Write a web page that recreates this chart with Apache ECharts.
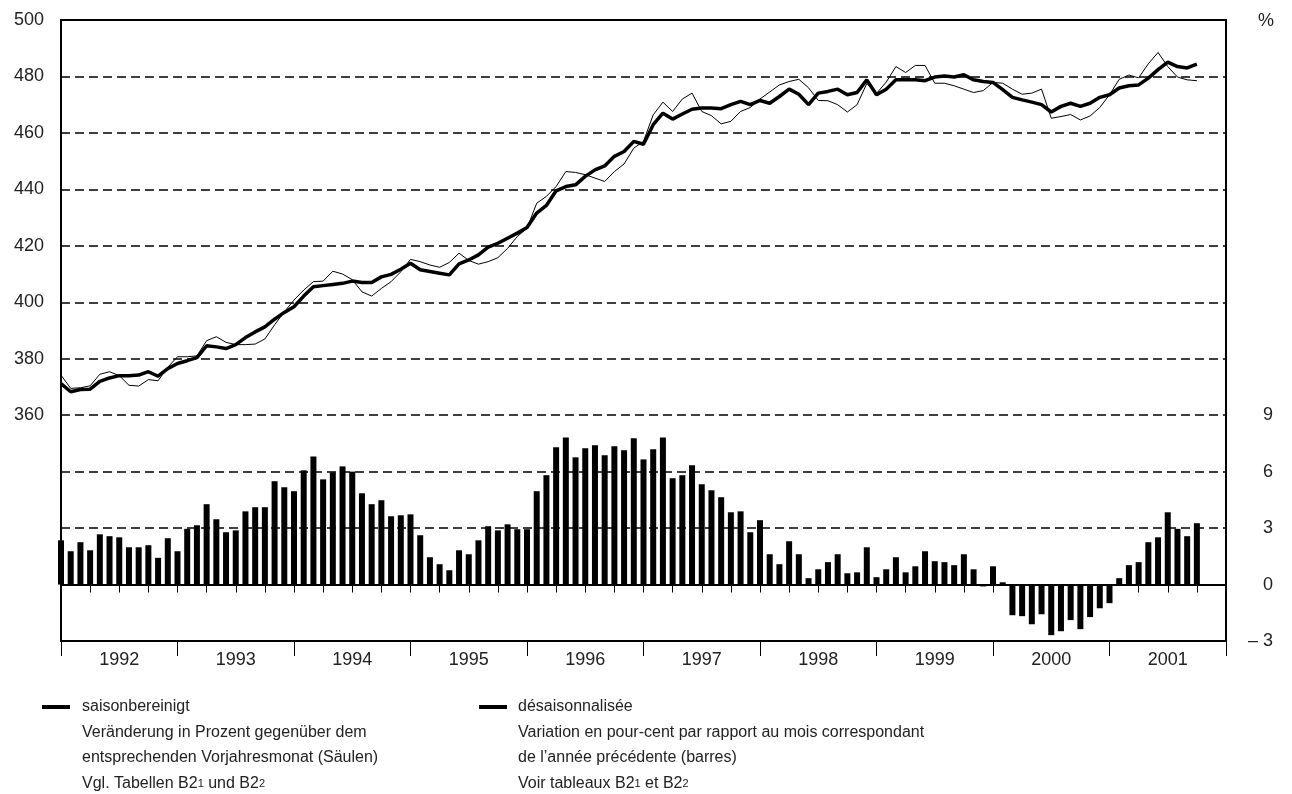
<!DOCTYPE html>
<html>
<head>
<meta charset="utf-8">
<script src="https://cdn.jsdelivr.net/npm/echarts@6/dist/echarts.min.js"></script>
<style>
html,body{margin:0;padding:0;background:#fff;}
#chart{width:1292px;height:794px;}
</style>
</head>
<body>
<div id="chart"></div>
<script>
// Months: Dec 1991 ... Dec 2001 (index 0 = Dec 1991)
const startYear = 1991, startMonth = 12, monthCount = 121;
const months = [];
for (let i = 0; i < monthCount; i++) {
  const t = startMonth - 1 + i;
  const y = startYear + Math.floor(t / 12);
  const m = (t % 12) + 1;
  months.push(y + '-' + (m < 10 ? '0' + m : m));
}
const yearLabels = ['1992','1993','1994','1995','1996','1997','1998','1999','2000','2001'];

// saisonbereinigt / désaisonnalisée (thick line)
const seasonallyAdjusted = [
  371.2,368.3,369.1,369.2,372.0,373.2,374.0,374.0,374.2,375.4,373.8,376.5,
  378.3,379.3,380.4,384.6,384.2,383.6,385.0,387.5,389.5,391.3,394.0,396.4,
  398.4,402.2,405.5,405.9,406.3,406.7,407.5,407.0,407.0,409.0,409.9,411.7,
  413.8,411.5,410.9,410.3,409.7,413.6,415.0,416.8,419.5,420.9,422.7,424.5,
  426.5,431.6,434.3,439.5,441.0,441.6,444.6,446.9,448.3,451.7,453.4,457.0,
  456.0,462.9,467.0,464.9,466.7,468.4,468.8,468.8,468.6,470.0,471.2,470.0,
  471.5,470.5,472.9,475.5,473.7,470.0,474.1,474.7,475.5,473.5,474.3,478.8,
  473.5,475.5,478.8,478.8,478.8,478.5,479.8,480.2,479.8,480.6,478.8,478.2,
  477.9,475.3,472.6,471.7,470.9,470.0,467.4,469.4,470.5,469.4,470.5,472.6,
  473.5,475.9,476.7,477.0,479.4,482.4,485.1,483.5,483.0,484.4
];
// unadjusted index (thin line)
const unadjusted = [
  374.2,369.5,369.7,370.4,374.5,375.4,374.0,370.6,370.3,372.6,372.2,377.0,
  380.7,380.7,381.0,386.4,387.8,385.8,385.0,385.0,385.2,387.0,392.0,396.6,
  400.8,404.3,407.3,407.5,411.0,410.0,408.0,403.7,402.2,404.9,407.3,410.8,
  415.2,414.4,413.2,412.4,414.1,417.4,414.8,413.5,414.4,415.8,419.1,423.3,
  426.2,435.1,437.5,441.0,446.3,446.0,445.2,444.0,442.8,446.3,449.0,454.6,
  457.0,466.4,470.9,467.6,472.0,474.1,467.6,466.1,463.2,464.1,467.6,469.0,
  472.0,474.5,477.0,478.2,479.0,476.0,471.5,471.4,470.0,467.4,470.0,477.5,
  474.0,478.0,483.5,481.4,483.9,483.9,477.6,477.6,476.7,475.5,474.3,475.0,
  477.9,477.6,475.5,473.7,474.1,475.5,465.2,465.8,466.5,464.6,466.0,469.0,
  473.5,479.0,480.5,479.5,484.5,488.5,483.5,479.8,478.8,478.5
];
// Veränderung gegenüber Vorjahresmonat in % (bars)
const yoyChange = [
  2.35,1.77,2.25,1.82,2.67,2.57,2.51,1.98,1.98,2.09,
  1.42,2.46,1.77,2.96,3.15,4.27,3.47,2.78,2.88,3.89,
  4.11,4.11,5.49,5.17,4.96,6.07,6.81,5.59,5.96,6.28,
  6.00,4.85,4.27,4.48,3.63,3.68,3.73,2.62,1.45,1.08,
  0.76,1.82,1.61,2.35,3.10,2.88,3.20,2.94,2.94,4.96,
  5.81,7.29,7.82,6.76,7.24,7.40,6.87,7.35,7.13,7.77,
  6.65,7.19,7.82,5.65,5.81,6.34,5.33,5.01,4.64,3.84,
  3.89,2.78,3.42,1.61,1.08,2.30,1.61,0.34,0.81,1.19,
  1.61,0.60,0.65,1.98,0.39,0.81,1.45,0.65,0.97,1.77,
  1.24,1.19,1.03,1.61,0.81,-0.10,0.97,0.12,-1.63,-1.68,
  -2.11,-1.58,-2.69,-2.48,-1.89,-2.37,-1.73,-1.26,-0.99,0.34,
  1.03,1.19,2.25,2.51,3.84,2.96,2.57,3.26
];

const FONT = '"Liberation Sans", Arial, Helvetica, sans-serif';
const TXT = '#222';

const chart = echarts.init(document.getElementById('chart'), null, {renderer: 'canvas'});

const legendLines = (x, lines) => lines.map((t, i) => ({
  type: 'text',
  style: {
    x: x, y: 707 + i * 25.5, text: t, fill: TXT, font: '16px ' + FONT,
    verticalAlign: 'middle',
    rich: {
      a: {fontSize: 16, fontFamily: FONT, fill: TXT},
      s: {fontSize: 11, fontFamily: FONT, fill: TXT, verticalAlign: 'bottom', padding: [0, 0, 2, 0]}
    }
  }
}));

const option = {
  animation: false,
  backgroundColor: '#fff',
  grid: {left: 61, right: 66, top: 20, bottom: 153, show: true, borderColor: '#000', borderWidth: 2, backgroundColor: 'transparent'},
  xAxis: [
    {
      type: 'category', data: months, boundaryGap: false, position: 'bottom',
      axisLine: {show: true, lineStyle: {color: '#000', width: 2}},
      axisTick: {show: true, interval: 2, length: 8, lineStyle: {color: '#000', width: 1}},
      axisLabel: {
        show: true, interval: (idx) => idx % 12 === 6,
        formatter: (v, idx) => yearLabels[Math.floor(idx / 12)] || '',
        color: TXT, fontSize: 18, fontFamily: FONT, margin: 10
      },
      splitLine: {show: false}
    },
    {
      type: 'category', data: months, boundaryGap: false, position: 'bottom', offset: 0,
      axisLine: {show: false},
      axisTick: {show: true, interval: 11, length: 15, lineStyle: {color: '#000', width: 1}},
      axisLabel: {show: false},
      splitLine: {show: false}
    }
  ],
  yAxis: [
    {
      type: 'value', position: 'left', min: 280, max: 500, interval: 20,
      axisLine: {show: true, lineStyle: {color: '#000', width: 2}},
      axisTick: {show: false},
      axisLabel: {formatter: (v) => v >= 360 ? String(v) : '', color: TXT, fontSize: 18, fontFamily: FONT, margin: 17},
      splitLine: {show: true, showMinLine: false, showMaxLine: false, lineStyle: {color: '#000', width: 1.5, type: [9, 5]}}
    },
    {
      type: 'value', position: 'right', min: -3, max: 30, interval: 3,
      axisLine: {show: true, lineStyle: {color: '#000', width: 2}},
      axisTick: {show: false},
      axisLabel: {
        formatter: (v) => v <= 9 ? (v < 0 ? '\u2013 ' + Math.abs(v) : String(v)) : '',
        color: TXT, fontSize: 18, fontFamily: FONT, margin: 47, align: 'right'
      },
      splitLine: {show: false}
    }
  ],
  series: [
    {
      name: 'Veränderung', type: 'bar', xAxisIndex: 0, yAxisIndex: 1,
      data: yoyChange, barWidth: 6, itemStyle: {color: '#000'}, z: 2
    },
    {
      name: 'unbereinigt', type: 'line', xAxisIndex: 0, yAxisIndex: 0,
      data: unadjusted, symbol: 'none', lineStyle: {color: '#000', width: 1}, z: 3
    },
    {
      name: 'saisonbereinigt', type: 'line', xAxisIndex: 0, yAxisIndex: 0,
      data: seasonallyAdjusted, symbol: 'none', lineStyle: {color: '#000', width: 3.5}, z: 4
    }
  ],
  graphic: [
    {type: 'text', style: {x: 1258, y: 21, text: '%', fill: TXT, font: '18px ' + FONT, verticalAlign: 'middle'}},
    {type: 'rect', shape: {x: 42, y: 705, width: 28, height: 4}, style: {fill: '#000'}},
    {type: 'rect', shape: {x: 479, y: 705, width: 28, height: 4}, style: {fill: '#000'}}
  ]
    .concat(legendLines(82, [
      '{a|saisonbereinigt}',
      '{a|Veränderung in Prozent gegenüber dem}',
      '{a|entsprechenden Vorjahresmonat (Säulen)}',
      '{a|Vgl. Tabellen B2}{s|1}{a| und B2}{s|2}'
    ]))
    .concat(legendLines(518, [
      '{a|désaisonnalisée}',
      '{a|Variation en pour-cent par rapport au mois correspondant}',
      '{a|de l’année précédente (barres)}',
      '{a|Voir tableaux B2}{s|1}{a| et B2}{s|2}'
    ]))
};
chart.setOption(option);
</script>
</body>
</html>
